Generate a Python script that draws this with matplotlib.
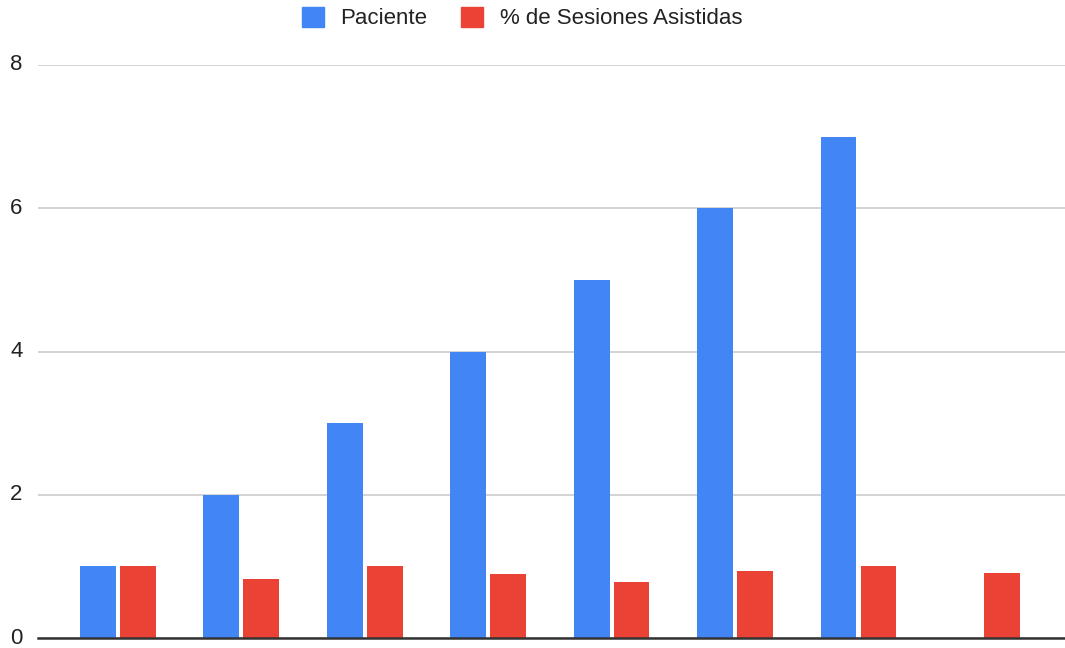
import matplotlib.pyplot as plt
import matplotlib.transforms as mtransforms
import numpy as np
from matplotlib.patches import Patch

# chart data
categories = ['1', '2', '3', '4', '5', '6', '7', '8']
paciente = [1, 2, 3, 4, 5, 6, 7, np.nan]
sesiones = [1.0, 0.83, 1.0, 0.89, 0.78, 0.94, 1.0, 0.91]
yticks = [0, 2, 4, 6, 8]

blue = '#4285F4'
red = '#EA4335'

plt.rcParams['font.family'] = ['Liberation Sans', 'DejaVu Sans']

W, H = 1065, 648
fig = plt.figure(figsize=(W / 100, H / 100), dpi=100)
ax = fig.add_axes([38 / W, 1 - 638 / H, 1 - 38 / W, (638 - 65) / H])

x = np.arange(len(categories))
bw = 0.29
off = 0.162
ax.bar(x - off, paciente, width=bw, color=blue, zorder=3)
ax.bar(x + off, sesiones, width=bw, color=red, zorder=3)

ax.set_xlim(-0.648, 7.674)
ax.set_ylim(0, 8)
ax.set_yticks(yticks)
ax.set_yticklabels([str(t) for t in yticks], fontsize=16, color='#222222')
ax.set_xticks([])
ax.tick_params(axis='y', length=0, pad=11)
# nudge labels up a little so the bottom "0" stays inside the figure
shift = mtransforms.ScaledTranslation(0, 2.5 / 100, fig.dpi_scale_trans)
for lab in ax.get_yticklabels():
    lab.set_transform(lab.get_transform() + shift)
ax.yaxis.grid(True, color='#cccccc', linewidth=1.2, zorder=0)
for s in ['top', 'right', 'left']:
    ax.spines[s].set_visible(False)
ax.spines['bottom'].set_color('#333333')
ax.spines['bottom'].set_linewidth(1.8)
ax.spines['bottom'].set_zorder(4)

handles = [Patch(facecolor=blue, edgecolor=blue, label='Paciente'),
           Patch(facecolor=red, edgecolor=red, label='% de Sesiones Asistidas')]
fig.legend(handles=handles, loc='center', bbox_to_anchor=(522 / W, 1 - 18 / H),
           ncol=2, frameon=False, fontsize=16, handlelength=1.0, handleheight=1.0,
           handletextpad=0.75, columnspacing=1.5, labelcolor='#222222')

fig.savefig('out.png', dpi=100)
